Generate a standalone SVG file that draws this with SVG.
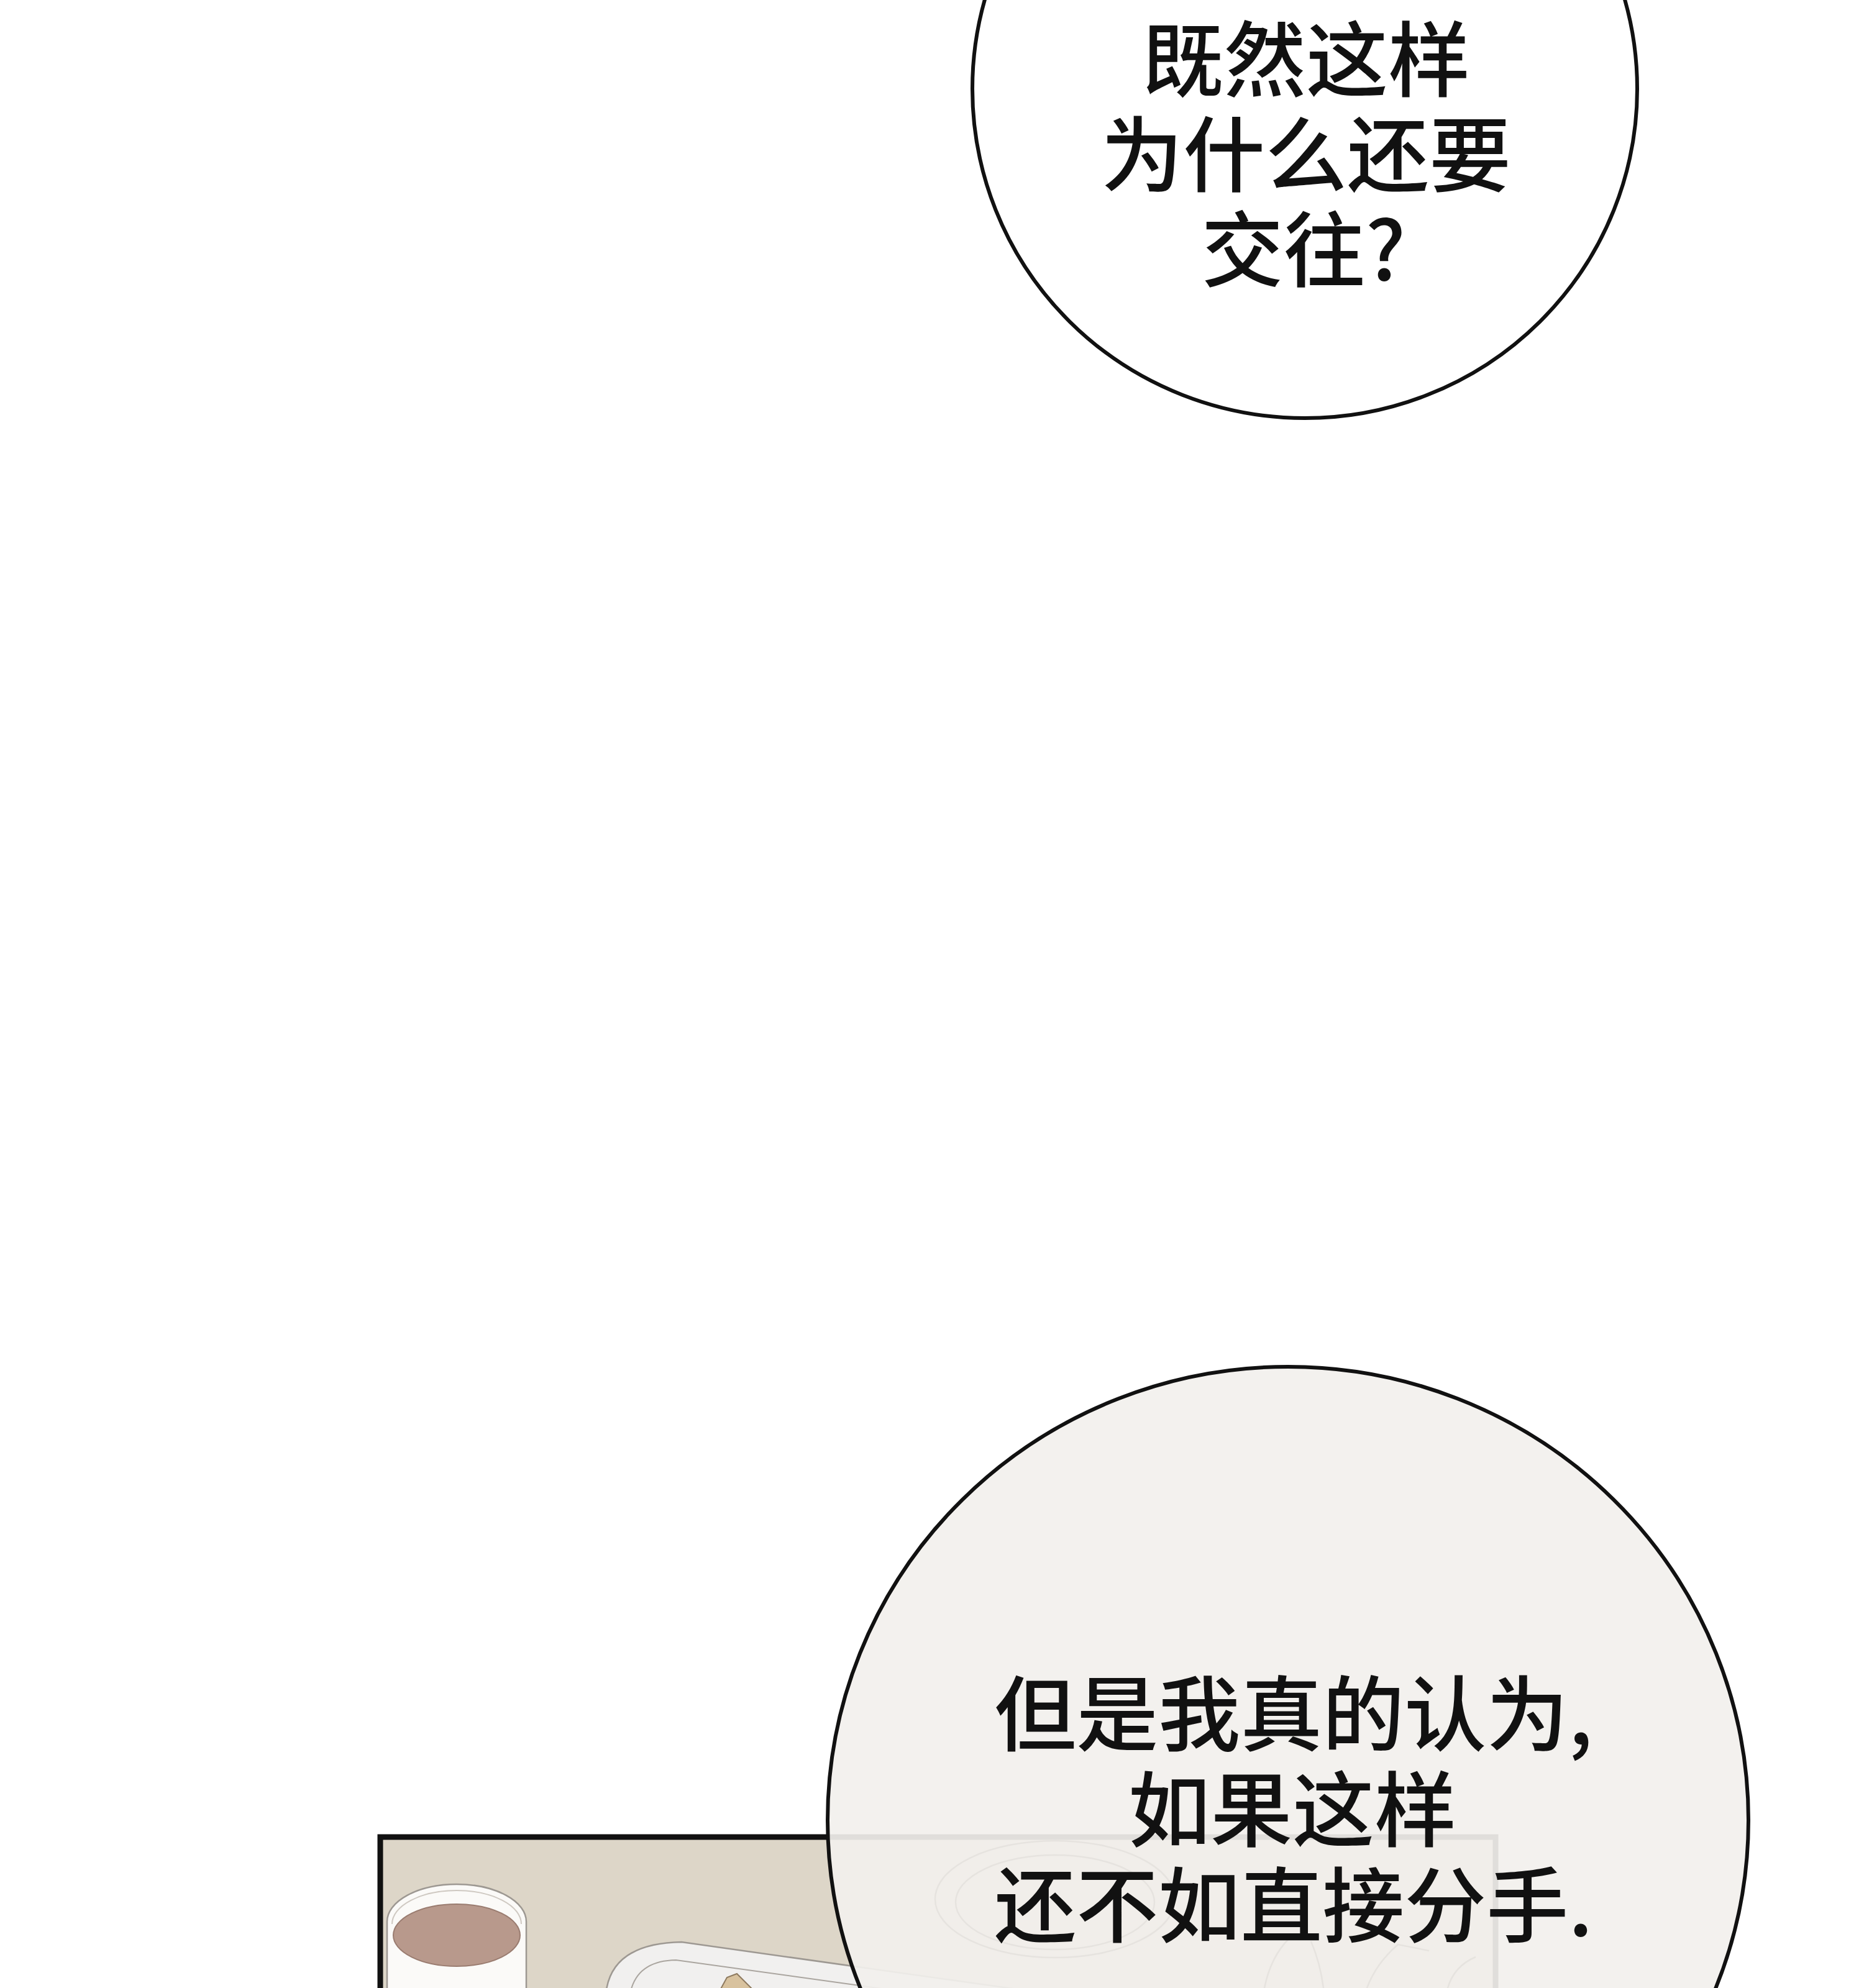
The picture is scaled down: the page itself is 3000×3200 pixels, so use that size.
<svg xmlns="http://www.w3.org/2000/svg" width="3000" height="3200" viewBox="0 0 3000 3200">
  <defs>
    <style>
      .bubble-text { font-family: "Noto Sans CJK SC", "Noto Sans", sans-serif; font-size: 132px; font-weight: 500; fill: #111111; text-anchor: middle; }
      .outline { stroke: #111111; stroke-width: 6; }
      .ghost { fill: none; stroke: #e6e3df; stroke-width: 2.5; }
      .ink { stroke: #9d9892; stroke-width: 2.5; }
    </style>
    <clipPath id="panelClip">
      <rect x="616" y="2961" width="1787" height="260"/>
    </clipPath>
  </defs>

  <rect x="0" y="0" width="3000" height="3200" fill="#ffffff"/>

  <!-- Panel (scene under the bottom bubble) -->
  <g id="panel">
    <rect x="612" y="2957" width="1795" height="300" fill="#ddd6c8" stroke="#111111" stroke-width="9"/>
    <g clip-path="url(#panelClip)">
      <!-- tray -->
      <path d="M975,3210 Q983,3128 1097,3126 L1800,3225 L1800,3240 L975,3240 Z" fill="#f1f0ef" class="ink"/>
      <path d="M1014,3210 Q1024,3156 1088,3155 L1700,3240" fill="none" stroke="#aaa59f" stroke-width="2"/>
      <!-- wooden item -->
      <path d="M1158,3205 L1170,3183 L1186,3177 L1214,3205 Z" fill="#d8c29e" stroke="#8e7a5f" stroke-width="2"/>
      <!-- cup -->
      <path d="M623,3210 L623,3093 A112,60 0 0 1 847,3093 L847,3210 Z" fill="#fbfaf8" class="ink"/>
      <path d="M631,3097 A104,54 0 0 1 839,3097" fill="none" stroke="#cfc9c2" stroke-width="2"/>
      <ellipse cx="735" cy="3115" rx="102" ry="50" fill="#b8998c" stroke="#9a7c70" stroke-width="2"/>
    </g>
  </g>

  <!-- Top speech bubble -->
  <g id="bubble-top">
    <ellipse cx="2100" cy="143" rx="535" ry="530" fill="#ffffff" class="outline"/>
    <text class="bubble-text" x="2102" y="145">既然这样</text>
    <text class="bubble-text" x="2102" y="298">为什么还要</text>
    <text class="bubble-text" x="2098" y="451">交往?</text>
  </g>

  <!-- Bottom speech bubble -->
  <g id="bubble-bottom">
    <ellipse cx="2073" cy="2930" rx="741" ry="730" fill="#f2f0ed" fill-opacity="0.92" class="outline"/>
    <g clip-path="url(#panelClip)">
      <ellipse class="ghost" cx="1698" cy="3057" rx="193" ry="94"/>
      <ellipse class="ghost" cx="1698" cy="3062" rx="160" ry="76"/>
      <path class="ghost" d="M2035,3200 Q2045,3150 2075,3120 M2130,3200 Q2125,3160 2110,3125 M2200,3200 Q2215,3160 2250,3130 L2300,3140 M2330,3200 Q2340,3165 2375,3150"/>
    </g>
    <text class="bubble-text" x="2082" y="2808">但是我真的认为,</text>
    <text class="bubble-text" x="2080" y="2962">如果这样</text>
    <text class="bubble-text" x="2082" y="3116">还不如直接分手.</text>
  </g>
</svg>
